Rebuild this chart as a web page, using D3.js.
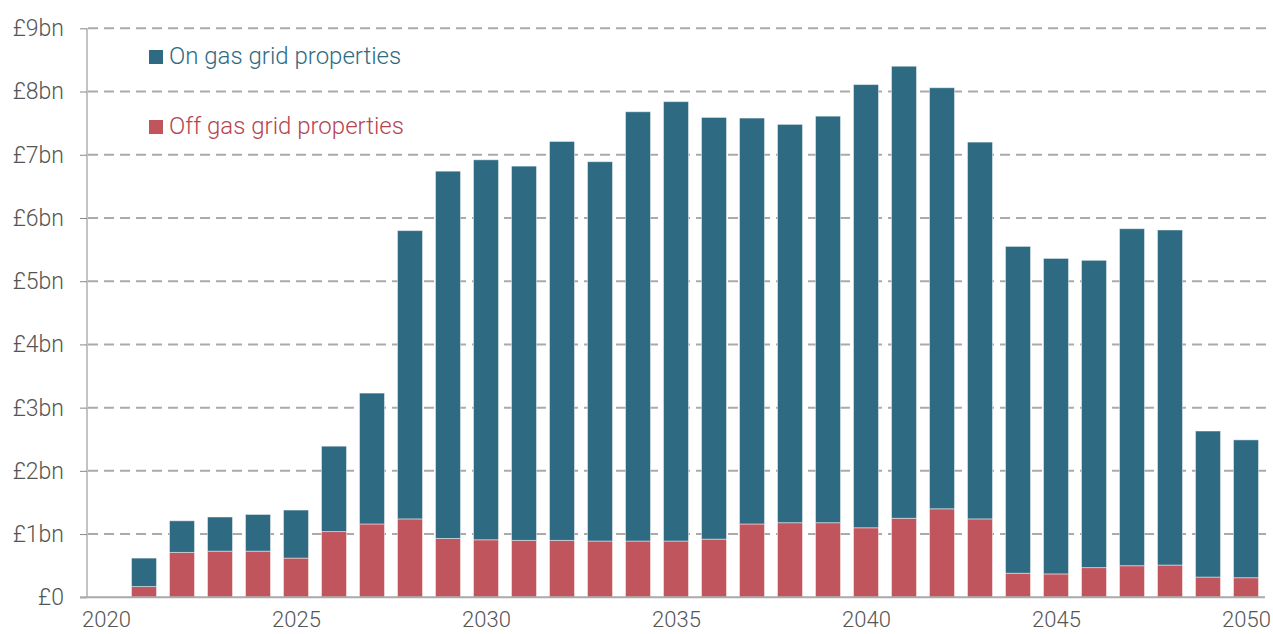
<!DOCTYPE html>
<html>
<head>
<meta charset="utf-8">
<script src="https://cdn.jsdelivr.net/npm/d3@7"></script>
<style>
  body { margin: 0; background: #fff; }
  svg text { font-family: Roboto, "Noto Sans", sans-serif; font-weight: 300; }
</style>
</head>
<body>
<div id="chart"></div>
<script>
// datos (miles de millones de libras)
const years = d3.range(2021, 2051);
const offGrid = [0.17, 0.71, 0.73, 0.73, 0.62, 1.04, 1.16, 1.24, 0.93, 0.91,
                 0.90, 0.90, 0.89, 0.89, 0.89, 0.92, 1.16, 1.18, 1.18, 1.10,
                 1.25, 1.40, 1.24, 0.38, 0.37, 0.47, 0.50, 0.51, 0.32, 0.31];
const totals  = [0.62, 1.21, 1.27, 1.31, 1.38, 2.39, 3.23, 5.80, 6.74, 6.92,
                 6.82, 7.21, 6.89, 7.68, 7.84, 7.59, 7.58, 7.48, 7.61, 8.11,
                 8.40, 8.06, 7.20, 5.55, 5.36, 5.33, 5.83, 5.81, 2.63, 2.49];
const onGrid = totals.map((t, i) => +(t - offGrid[i]).toFixed(2));
const yTicks = d3.range(0, 10);
const xTicks = [2020, 2025, 2030, 2035, 2040, 2045, 2050];
const seriesNames = ["On gas grid properties", "Off gas grid properties"];

const width = 1273, height = 634;
const colorOn = "#2e6b82", colorOff = "#c0555e";

const svg = d3.select("#chart").append("svg")
  .attr("width", width)
  .attr("height", height);

const x = d3.scaleLinear().domain([2020, 2050]).range([106, 1246]);
const y = d3.scaleLinear().domain([0, 9]).range([597.3, 28.3]);
const barW = 25;

// rejilla
svg.append("g")
  .selectAll("line")
  .data(yTicks.filter(d => d > 0))
  .enter()
  .append("line")
  .attr("x1", 88).attr("x2", 1270)
  .attr("y1", d => y(d)).attr("y2", d => y(d))
  .attr("stroke", "#aaa")
  .attr("stroke-width", 2)
  .attr("stroke-dasharray", "10,6");

// eje y
const yAxis = d3.axisLeft(y)
  .tickValues(yTicks)
  .tickSize(7)
  .tickPadding(16)
  .tickFormat(d => d === 0 ? "£0" : "£" + d + "bn");

const gy = svg.append("g")
  .attr("transform", "translate(87,0)")
  .call(yAxis);
gy.select(".domain").attr("stroke", "#888").attr("d", `M0,${y(9)}V${y(0)}`);
gy.selectAll(".tick line").attr("stroke", "#888");
gy.selectAll(".tick text")
  .attr("fill", "#555")
  .style("font-size", "23px");

// barras apiladas
const data = years.map((yr, i) => ({ year: yr, off: offGrid[i], on: onGrid[i] }));
const stack = d3.stack().keys(["off", "on"])(data);
const colors = { off: colorOff, on: colorOn };

svg.append("g")
  .selectAll("g")
  .data(stack)
  .enter()
  .append("g")
  .attr("fill", d => colors[d.key])
  .selectAll("rect")
  .data(d => d)
  .enter()
  .append("rect")
  .attr("x", d => x(d.data.year) - barW / 2)
  .attr("y", d => y(d[1]))
  .attr("width", barW)
  .attr("height", d => y(d[0]) - y(d[1]))
  .attr("stroke", "rgba(255,255,255,0.45)")
  .attr("stroke-width", 1);

// linea base
svg.append("line")
  .attr("x1", 80).attr("x2", 1265)
  .attr("y1", y(0)).attr("y2", y(0))
  .attr("stroke", "#aaa")
  .attr("stroke-width", 2);

// eje x
const xAxis = d3.axisBottom(x)
  .tickValues(xTicks)
  .tickSize(0)
  .tickPadding(14)
  .tickFormat(d3.format("d"));

const gx = svg.append("g")
  .attr("transform", `translate(0,${y(0)})`)
  .call(xAxis);
gx.select(".domain").remove();
gx.selectAll(".tick text")
  .attr("fill", "#555")
  .style("font-size", "22px");

// leyenda
const legend = svg.append("g");
const legendItems = [
  { name: seriesNames[0], color: colorOn, text: "#2e6b82", y: 50 },
  { name: seriesNames[1], color: colorOff, text: "#b5454f", y: 120 }
];
legendItems.forEach(it => {
  legend.append("rect")
    .attr("x", 149).attr("y", it.y)
    .attr("width", 14).attr("height", 14)
    .attr("fill", it.color);
  legend.append("text")
    .attr("x", 169).attr("y", it.y + 14)
    .attr("fill", it.text)
    .style("font-size", "24px")
    .text(it.name);
});
</script>
</body>
</html>
